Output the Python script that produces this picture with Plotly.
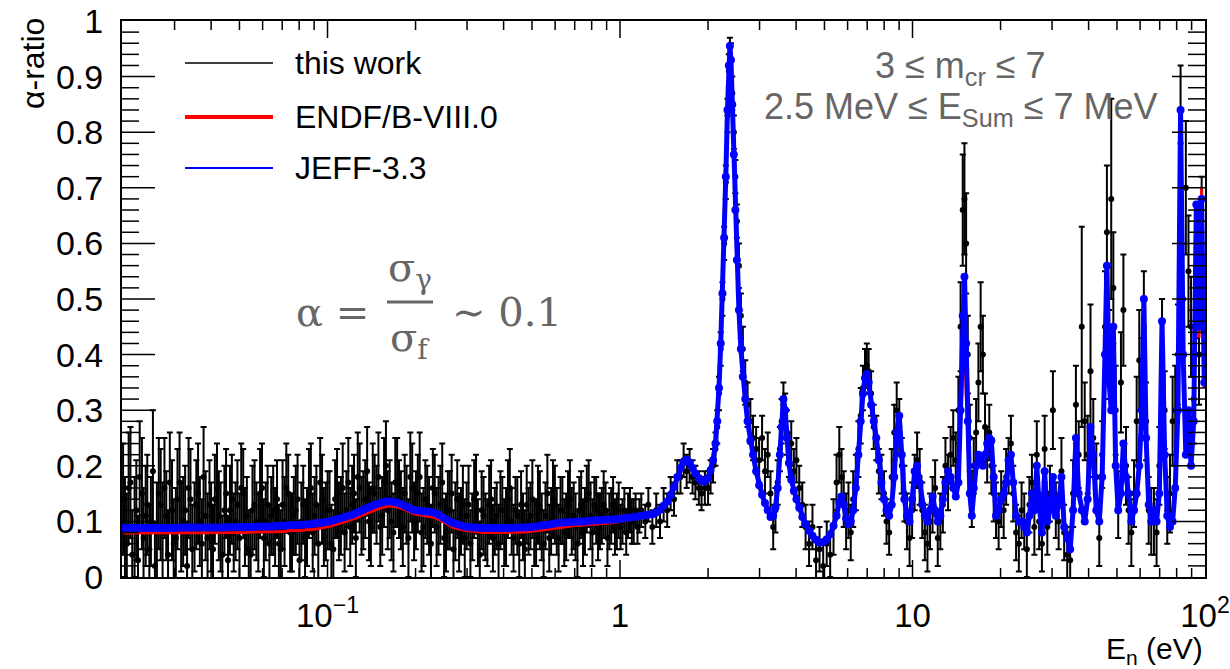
import math
import plotly.graph_objects as go

# ---------------- data ----------------
# neutron energy grid (eV), low / middle / high region
E_LOW = [0.0200, 0.0206, 0.0212, 0.0219, 0.0225, 0.0232, 0.0239, 0.0246, 0.0253, 0.0261,
         0.0269, 0.0277, 0.0285, 0.0294, 0.0303, 0.0312, 0.0321, 0.0331, 0.0340, 0.0351,
         0.0361, 0.0372, 0.0383, 0.0395, 0.0406, 0.0419, 0.0431, 0.0444, 0.0457, 0.0471,
         0.0485, 0.0500, 0.0515, 0.0530, 0.0546, 0.0563, 0.0580, 0.0597, 0.0615, 0.0633,
         0.0652, 0.0672, 0.0692, 0.0713, 0.0734, 0.0756, 0.0779, 0.0802, 0.0826, 0.0851,
         0.0877, 0.0903, 0.0930, 0.0958, 0.0987, 0.1016, 0.1047, 0.1078, 0.1111, 0.1144,
         0.1178, 0.1214, 0.1250, 0.1288, 0.1326, 0.1366, 0.1407, 0.1449, 0.1493, 0.1538,
         0.1584, 0.1631, 0.1680, 0.1730, 0.1782, 0.1836, 0.1891, 0.1948, 0.2006, 0.2066,
         0.2128, 0.2192, 0.2258, 0.2326, 0.2396, 0.2467, 0.2541, 0.2618, 0.2696, 0.2777,
         0.2860, 0.2946, 0.3035, 0.3126, 0.3219, 0.3316, 0.3415, 0.3518, 0.3623, 0.3732,
         0.3844, 0.3959, 0.4078, 0.4200, 0.4326, 0.4456, 0.4590, 0.4728, 0.4869, 0.5015,
         0.5166, 0.5321, 0.5480, 0.5645, 0.5814, 0.5989, 0.6168, 0.6353, 0.6544, 0.6740,
         0.6943, 0.7151, 0.7365, 0.7586, 0.7814, 0.8048, 0.8290, 0.8539, 0.8795, 0.9059,
         0.9330, 0.9610, 0.9899, 1.0196, 1.0501, 1.0816, 1.1141, 1.1475, 1.1820]
E_MID = [1.22, 1.25, 1.29, 1.33, 1.37, 1.41, 1.45, 1.49, 1.53, 1.57,
         1.61, 1.65, 1.69, 1.73, 1.77, 1.81, 1.86, 1.90, 1.95, 2.00,
         2.04, 2.08, 2.12, 2.15, 2.18, 2.21, 2.24, 2.27, 2.30, 2.33,
         2.355, 2.375, 2.395, 2.42, 2.45, 2.48, 2.51, 2.55, 2.59, 2.63,
         2.68, 2.73, 2.79, 2.85, 2.92, 2.99, 3.06, 3.13, 3.20, 3.27,
         3.34, 3.40, 3.46, 3.52, 3.57, 3.62, 3.67, 3.72, 3.78, 3.85,
         3.93, 4.01, 4.10, 4.20, 4.31, 4.43, 4.55, 4.68, 4.81, 4.95,
         5.09, 5.23, 5.37, 5.50, 5.62, 5.72, 5.82, 5.93, 6.04, 6.15,
         6.27, 6.40, 6.53, 6.65, 6.77, 6.88, 6.98]
E_HI = [7.08, 7.22, 7.37, 7.52, 7.67, 7.83, 7.99, 8.15, 8.32, 8.49,
        8.66, 8.83, 9.01, 9.19, 9.38, 9.57, 9.77, 9.97, 10.17, 10.37,
        10.58, 10.8, 11.02, 11.25, 11.48, 11.71, 11.95, 12.2, 12.45, 12.7,
        12.96, 13.23, 13.5, 13.78, 14.06, 14.35, 14.6, 14.85, 15.05, 15.25,
        15.45, 15.7, 15.95, 16.2, 16.5, 16.8, 17.1, 17.4, 17.7, 18.0,
        18.3, 18.6, 18.95, 19.3, 19.7, 20.1, 20.5, 20.9, 21.3, 21.7,
        22.1, 22.6, 23.1, 23.6, 24.1, 24.6, 25.1, 25.6, 26.1, 26.6,
        27.1, 27.7, 28.3, 28.9, 29.5, 30.2, 30.9, 31.6, 32.3, 33.0,
        33.8, 34.6, 35.4, 36.2, 37.0, 37.9, 38.8, 39.7, 40.6, 41.5,
        42.5, 43.5, 44.5, 45.5, 46.2, 47.0, 47.8, 48.6, 49.5, 50.5,
        51.6, 52.6, 53.7, 54.8, 56.0, 57.2, 58.4, 59.6, 60.8, 61.8,
        62.9, 64.2, 65.5, 66.9, 68.3, 69.8, 71.3, 72.8, 74.3, 75.9,
        77.5, 79.1, 80.8, 82.5, 84.2, 86.0, 87.8, 89.6, 91.5, 93.4,
        95.4, 97.4, 99.4]
# extra measured bins in between (low-energy region only has "this work" values)
E_LOW_B = [0.0203, 0.0209, 0.0215, 0.0222, 0.0228, 0.0235, 0.0242, 0.0249, 0.0257, 0.0265,
           0.0273, 0.0281, 0.0289, 0.0298, 0.0307, 0.0316, 0.0326, 0.0335, 0.0345, 0.0356,
           0.0366, 0.0377, 0.0389, 0.0400, 0.0412, 0.0425, 0.0437, 0.0450, 0.0464, 0.0478,
           0.0492, 0.0507, 0.0522, 0.0538, 0.0554, 0.0571, 0.0588, 0.0606, 0.0624, 0.0642,
           0.0662, 0.0682, 0.0702, 0.0723, 0.0745, 0.0767, 0.0790, 0.0814, 0.0838, 0.0864,
           0.0890, 0.0916, 0.0944, 0.0972, 0.1001, 0.1031, 0.1062, 0.1094, 0.1127, 0.1161,
           0.1196, 0.1232, 0.1269, 0.1307, 0.1346, 0.1386, 0.1428, 0.1471, 0.1515, 0.1561,
           0.1607, 0.1655, 0.1705, 0.1756, 0.1809, 0.1863, 0.1919, 0.1977, 0.2036, 0.2097,
           0.2160, 0.2225, 0.2292, 0.2361, 0.2431, 0.2504, 0.2579, 0.2657, 0.2736, 0.2818,
           0.2903, 0.2990, 0.3080, 0.3172, 0.3267, 0.3365, 0.3466, 0.3570, 0.3677, 0.3788,
           0.3901, 0.4018, 0.4139, 0.4263, 0.4391, 0.4523, 0.4659, 0.4798, 0.4942, 0.5090,
           0.5243, 0.5400, 0.5562, 0.5729, 0.5901, 0.6078, 0.6260, 0.6448, 0.6642, 0.6841,
           0.7046, 0.7258, 0.7475, 0.7700, 0.7931, 0.8169, 0.8414, 0.8666, 0.8926, 0.9194,
           0.9470, 0.9754, 1.0047, 1.0348, 1.0658, 1.0978, 1.1307, 1.1647]

# "this work" measured alpha ratio
D_LOW = [.14, .06, .17, .09, .03, .15, .11, .05, .19, .08,
         .13, .16, .04, .12, .07, .17, .10, .02, .14, .09,
         .15, .06, .11, .13, .05, .16, .09, .12, .03, .14,
         .10, .07, .15, .11, .04, .13, .08, .16, .10, .06,
         .12, .14, .05, .10, .15, .08, .12, .03, .13, .09,
         .16, .11, .06, .14, .10, .12, .05, .15, .11, .08,
         .17, .13, .07, .16, .12, .19, .09, .15, .18, .11,
         .20, .14, .08, .17, .12, .15, .07, .16, .12, .18,
         .09, .13, .06, .15, .11, .17, .08, .12, .05, .14,
         .10, .07, .13, .09, .15, .04, .11, .08, .14, .10,
         .06, .12, .09, .16, .07, .11, .13, .05, .10, .14,
         .08, .12, .06, .15, .10, .13, .07, .12, .09, .14,
         .11, .06, .13, .10, .15, .08, .12, .10, .13, .07,
         .11, .09, .12, .10, .08, .12, .10, .09, .12]
D_LOW_B = [.09, .16, .04, .12, .18, .07, .13, .10, .02, .15,
           .08, .11, .17, .06, .14, .09, .12, .16, .05, .13,
           .10, .18, .07, .09, .14, .11, .04, .15, .12, .08,
           .13, .16, .09, .05, .12, .10, .15, .07, .13, .11,
           .09, .06, .13, .16, .08, .11, .14, .10, .07, .15,
           .08, .13, .17, .09, .12, .06, .14, .10, .16, .12,
           .09, .15, .18, .11, .14, .10, .16, .13, .09, .17,
           .12, .10, .17, .14, .09, .13, .18, .10, .15, .08,
           .14, .11, .16, .09, .13, .07, .12, .15, .10, .08,
           .13, .11, .06, .14, .08, .12, .09, .13, .07, .11,
           .12, .08, .14, .10, .12, .06, .09, .13, .11, .08,
           .13, .09, .11, .07, .14, .10, .12, .08, .13, .10,
           .09, .12, .08, .14, .11, .13, .09, .11, .12, .10,
           .13, .10, .09, .12, .11, .10, .12, .11]
D_MID = [.10, .13, .09, .12, .10, .13, .12, .15, .14, .18,
         .18, .21, .19, .20, .18, .17, .16, .15, .16, .16,
         .18, .20, .23, .27, .33, .41, .50, .60, .71, .83,
         .91, .94, .93, .87, .80, .72, .64, .56, .47, .41,
         .35, .31, .28, .25, .23, .21, .25, .19, .22, .15,
         .09, .12, .17, .23, .28, .31, .29, .26, .22, .24,
         .19, .21, .16, .13, .09, .06, .09, .03, .05, .02,
         .06, .04, .09, .17, .22, .18, .14, .10, .12, .08,
         .14, .17, .23, .29, .34, .37, .38]
D_HI = [.37, .33, .27, .25, .19, .18, .15, .10, .08, .18,
        .26, .30, .27, .20, .15, .10, .07, .12, .17, .21,
        .18, .12, .08, .06, .10, .13, .16, .07, .10, .13,
        .20, .17, .22, .25, .21, .30, .45, .66, .68, .60,
        .40, .25, .14, .20, .26, .35, .45, .40, .27, .22,
        .26, .20, .15, .12, .10, .14, .12, .18, .20, .24,
        .15, .08, .06, .12, .10, .05, .13, .17, .09, .22,
        .10, .06, .23, .09, .15, .30, .12, .10, .19, .08,
        .04, .03, .15, .31, .22, .45, .28, .22, .37, .25,
        .18, .07, .22, .45, .62, .40, .68, .52, .30, .13,
        .35, .48, .20, .12, .08, .15, .28, .39, .35, .45,
        .28, .12, .10, .10, .08, .20, .40, .30, .12, .15,
        .28, .30, .40, .78, .50, .70, .55, .45, .32, .55,
        .40, .60, .45]

# statistical uncertainty of "this work"
ERR_LOW = [.10, .09, .10, .09, .08, .10, .09, .08, .11, .09,
           .10, .09, .08, .09, .09, .09, .08, .08, .09, .08,
           .09, .08, .08, .08, .08, .08, .08, .08, .08, .08,
           .07, .08, .08, .07, .08, .08, .07, .08, .07, .07,
           .08, .07, .07, .08, .07, .07, .08, .07, .07, .07,
           .08, .07, .07, .08, .07, .07, .07, .08, .07, .07,
           .08, .07, .07, .08, .07, .08, .07, .07, .08, .07,
           .08, .07, .07, .08, .07, .07, .07, .08, .07, .08,
           .07, .07, .07, .07, .07, .07, .07, .07, .07, .07,
           .06, .07, .07, .06, .07, .06, .07, .06, .07, .06,
           .07, .06, .07, .07, .06, .07, .06, .07, .06, .07,
           .06, .07, .06, .07, .06, .07, .06, .06, .06, .07,
           .06, .06, .06, .06, .06, .06, .06, .05, .06, .05,
           .05, .05, .05, .04, .04, .04, .04, .03, .03]
ERR_LOW_B = [.09, .10, .08, .09, .10, .09, .09, .08, .08, .10,
             .09, .08, .09, .08, .09, .08, .08, .09, .08, .08,
             .08, .09, .08, .08, .08, .08, .07, .08, .08, .07,
             .08, .08, .07, .07, .08, .07, .08, .07, .07, .07,
             .07, .07, .08, .08, .07, .07, .08, .07, .07, .08,
             .07, .07, .08, .07, .07, .07, .07, .07, .08, .07,
             .07, .07, .08, .07, .07, .07, .08, .07, .07, .08,
             .07, .07, .08, .07, .07, .07, .08, .07, .07, .07,
             .07, .07, .07, .07, .07, .07, .07, .07, .07, .07,
             .07, .06, .06, .07, .06, .07, .06, .07, .06, .06,
             .07, .06, .07, .06, .06, .06, .06, .07, .06, .06,
             .07, .06, .06, .06, .07, .06, .06, .06, .06, .06,
             .06, .06, .06, .06, .06, .05, .06, .05, .05, .05,
             .05, .05, .04, .04, .04, .04, .03, .03]
ERR_MID = [.03, .03, .03, .03, .03, .03, .03, .03, .03, .03,
           .03, .03, .03, .03, .03, .03, .03, .03, .03, .03,
           .03, .03, .03, .03, .03, .03, .03, .03, .03, .03,
           .03, .03, .03, .03, .03, .03, .03, .04, .04, .04,
           .04, .04, .04, .04, .04, .04, .04, .04, .04, .04,
           .04, .04, .04, .04, .04, .04, .04, .04, .04, .04,
           .04, .04, .04, .04, .04, .04, .04, .04, .04, .04,
           .04, .04, .05, .05, .05, .05, .05, .05, .05, .05,
           .05, .05, .05, .05, .04, .04, .04]
ERR_HI = [.04, .04, .04, .04, .04, .04, .04, .04, .04, .05,
          .05, .05, .05, .05, .05, .05, .05, .05, .05, .05,
          .05, .05, .05, .05, .05, .05, .05, .05, .05, .05,
          .05, .05, .05, .05, .05, .06, .08, .10, .10, .09,
          .07, .06, .05, .05, .06, .07, .08, .07, .06, .05,
          .05, .05, .05, .05, .05, .05, .05, .05, .05, .05,
          .05, .05, .05, .05, .05, .05, .05, .05, .05, .06,
          .05, .05, .06, .05, .05, .07, .05, .05, .06, .05,
          .05, .05, .06, .07, .06, .18, .07, .07, .12, .07,
          .06, .05, .06, .10, .12, .08, .18, .10, .08, .06,
          .09, .10, .07, .06, .06, .06, .08, .09, .08, .10,
          .07, .06, .06, .06, .06, .07, .10, .07, .06, .07,
          .08, .08, .09, .14, .10, .12, .10, .09, .08, .12,
          .09, .12, .10]

# ENDF/B-VIII.0 evaluation
R_LOW = [.079, .079, .079, .079, .079, .079, .079, .079, .079, .079,
         .079, .079, .079, .079, .079, .079, .079, .079, .079, .079,
         .079, .079, .079, .080, .080, .080, .080, .080, .080, .080,
         .080, .080, .080, .080, .081, .081, .081, .081, .081, .081,
         .082, .082, .082, .082, .083, .083, .083, .084, .084, .085,
         .085, .086, .087, .088, .089, .091, .093, .095, .097, .099,
         .101, .104, .106, .109, .112, .115, .118, .121, .123, .125,
         .127, .128, .127, .126, .124, .121, .118, .115, .113, .112,
         .111, .110, .109, .107, .104, .100, .096, .092, .089, .087,
         .085, .084, .083, .082, .081, .081, .080, .080, .080, .080,
         .080, .080, .080, .080, .080, .081, .081, .081, .082, .082,
         .083, .084, .085, .086, .087, .088, .089, .090, .091, .092,
         .093, .093, .093, .094, .094, .095, .095, .096, .096, .097,
         .097, .098, .099, .100, .101, .103, .104, .105, .107]
R_MID = [.109, .110, .112, .115, .120, .127, .135, .146, .161, .179,
         .195, .206, .210, .205, .195, .185, .177, .172, .171, .177,
         .191, .209, .239, .279, .339, .419, .509, .609, .719, .839,
         .919, .953, .928, .850, .762, .664, .575, .485, .414, .363,
         .322, .282, .246, .221, .191, .166, .148, .133, .120, .108,
         .110, .125, .160, .220, .270, .318, .298, .250, .205, .175,
         .155, .140, .125, .108, .095, .083, .074, .067, .062, .063,
         .068, .077, .092, .110, .133, .143, .129, .105, .095, .100,
         .120, .160, .220, .280, .330, .357, .364]
R_HI = [.349, .309, .279, .249, .209, .170, .140, .120, .110, .130,
        .180, .258, .288, .219, .140, .110, .100, .140, .190, .200,
        .170, .130, .110, .100, .120, .145, .120, .100, .110, .140,
        .170, .190, .180, .160, .145, .165, .260, .380, .420, .350,
        .250, .150, .110, .160, .200, .220, .210, .200, .220, .240,
        .250, .245, .180, .110, .120, .140, .150, .170, .210, .220,
        .170, .110, .100, .100, .090, .080, .110, .150, .120, .190,
        .130, .080, .180, .100, .120, .170, .110, .130, .175, .090,
        .070, .050, .120, .240, .150, .120, .100, .140, .260, .210,
        .120, .100, .170, .380, .530, .340, .300, .430, .200, .120,
        .150, .230, .180, .150, .100, .120, .150, .200, .290, .470,
        .240, .130, .100, .120, .100, .150, .440, .210, .110, .090,
        .100, .160, .290, .820, .390, .220, .290, .200, .270, .620,
        .430, .700, .340]

# JEFF-3.3 evaluation
J_LOW = [.088, .088, .088, .088, .088, .088, .088, .088, .088, .088,
         .088, .088, .088, .088, .088, .089, .089, .089, .089, .089,
         .089, .089, .089, .089, .089, .089, .089, .089, .090, .090,
         .090, .090, .090, .090, .090, .090, .091, .091, .091, .091,
         .091, .092, .092, .092, .093, .093, .093, .094, .094, .095,
         .095, .096, .097, .098, .099, .100, .102, .104, .106, .108,
         .110, .112, .115, .118, .121, .124, .127, .130, .132, .134,
         .136, .136, .135, .134, .131, .128, .125, .122, .120, .119,
         .118, .118, .117, .115, .112, .108, .104, .100, .097, .095,
         .093, .091, .090, .089, .089, .088, .088, .088, .088, .088,
         .088, .088, .088, .088, .088, .089, .089, .089, .090, .090,
         .091, .092, .093, .094, .095, .096, .097, .098, .098, .099,
         .099, .100, .100, .100, .101, .101, .102, .102, .103, .103,
         .103, .104, .104, .105, .106, .107, .108, .109, .110]
J_MID = [.111, .112, .113, .116, .121, .128, .136, .147, .162, .180,
         .196, .207, .211, .206, .196, .186, .178, .173, .172, .178,
         .192, .210, .240, .280, .340, .420, .510, .610, .720, .840,
         .920, .955, .930, .850, .760, .660, .570, .480, .410, .360,
         .320, .280, .245, .220, .190, .165, .148, .133, .120, .108,
         .110, .125, .160, .220, .270, .320, .300, .250, .205, .175,
         .155, .140, .125, .108, .095, .083, .074, .067, .062, .063,
         .068, .077, .092, .110, .135, .145, .130, .105, .095, .100,
         .120, .160, .220, .280, .330, .358, .365]
J_HI = [.350, .310, .280, .250, .210, .170, .140, .120, .110, .130,
        .180, .260, .290, .220, .140, .110, .100, .140, .190, .200,
        .170, .130, .110, .100, .120, .145, .120, .100, .110, .140,
        .170, .190, .180, .160, .145, .170, .300, .470, .540, .420,
        .280, .150, .110, .160, .200, .220, .210, .200, .220, .240,
        .250, .245, .180, .110, .120, .140, .150, .170, .210, .220,
        .170, .110, .100, .100, .090, .080, .110, .150, .120, .200,
        .130, .080, .190, .100, .120, .180, .110, .130, .180, .090,
        .070, .050, .120, .250, .150, .120, .100, .140, .270, .220,
        .120, .100, .180, .400, .560, .350, .300, .450, .200, .120,
        .150, .240, .180, .150, .100, .120, .150, .200, .300, .500,
        .250, .130, .100, .120, .100, .150, .460, .220, .110, .090,
        .100, .160, .300, .840, .400, .220, .300, .200, .280, .670,
        .450, .680, .350]

# axis tick values
X_MAJOR = [0.1, 1, 10, 100]
X_LABELS = ["10<sup>\u22121</sup>", "1", "10", "10<sup>2</sup>"]
X_MINOR = [0.02, 0.03, 0.04, 0.05, 0.06, 0.07, 0.08, 0.09,
           0.2, 0.3, 0.4, 0.5, 0.6, 0.7, 0.8, 0.9,
           2, 3, 4, 5, 6, 7, 8, 9,
           20, 30, 40, 50, 60, 70, 80, 90]

energy = E_LOW + E_MID + E_HI
endf = R_LOW + R_MID + R_HI
jeff = J_LOW + J_MID + J_HI
tw_x = E_LOW + E_LOW_B + E_MID + E_HI
tw_y = D_LOW + D_LOW_B + D_MID + D_HI
tw_e = ERR_LOW + ERR_LOW_B + ERR_MID + ERR_HI
n1 = min(len(energy), len(endf), len(jeff))
n2 = min(len(tw_x), len(tw_y), len(tw_e))

# ---------------- figure ----------------
W, H = 1230, 669
L, R, T, B = 122, 25, 21, 92
PW, PH = W - L - R, H - T - B
XMIN, XMAX = -1.7026, 2.0


def px(sx):  # screen pixel -> paper x
    return (sx - L) / PW


def py(sy):  # screen pixel -> paper y
    return (H - B - sy) / PH


fig = go.Figure()
fig.add_trace(go.Scatter(
    x=tw_x[:n2], y=tw_y[:n2], mode="markers", name="this work",
    marker=dict(color="black", size=6),
    error_y=dict(type="data", array=tw_e[:n2], color="black", thickness=2, width=3),
    showlegend=False))
fig.add_trace(go.Scatter(
    x=energy[:n1], y=endf[:n1], mode="lines", name="ENDF/B-VIII.0",
    line=dict(color="red", width=3), showlegend=False))
fig.add_trace(go.Scatter(
    x=energy[:n1], y=jeff[:n1], mode="lines+markers", name="JEFF-3.3",
    line=dict(color="blue", width=5), marker=dict(color="blue", size=8),
    showlegend=False))

FONT = "Liberation Sans, Arial, Helvetica, sans-serif"
GRAY = "#666666"

axis_common = dict(showline=True, linecolor="black", linewidth=2, mirror=True,
                   ticks="", showgrid=False, zeroline=False, automargin=False,
                   ticklabeloverflow="allow")

fig.update_layout(
    width=W, height=H, margin=dict(l=L, r=R, t=T, b=B, autoexpand=False),
    paper_bgcolor="white", plot_bgcolor="white",
    font=dict(family=FONT, color="black"),
    xaxis=dict(type="log", range=[XMIN, XMAX], tickmode="array", tickvals=X_MAJOR,
               ticktext=X_LABELS,
               ticklabelstandoff=8, tickfont=dict(family=FONT, size=33, color="black"),
               **axis_common),
    yaxis=dict(range=[0, 1], tickmode="linear", tick0=0, dtick=0.1, ticklabelstandoff=10,
               tickfont=dict(family=FONT, size=34, color="black"),
               **axis_common),
)

annotations = []
shapes = []


# ROOT-style ticks on all four sides of the frame
def xpos(v):
    return (math.log10(v) - XMIN) / (XMAX - XMIN)


tick_line = dict(color="black", width=1.5)
for vals, ln in ((X_MAJOR, 17), (X_MINOR, 9)):
    for v in vals:
        xp = xpos(v)
        if xp <= 0.001 or xp >= 0.999:
            continue
        shapes.append(dict(type="line", xref="paper", yref="paper", x0=xp, x1=xp,
                           y0=0, y1=ln / PH, line=tick_line, layer="above"))
        shapes.append(dict(type="line", xref="paper", yref="paper", x0=xp, x1=xp,
                           y0=1, y1=1 - ln / PH, line=tick_line, layer="above"))
for k in range(1, 50):
    yv = k * 0.02
    ln = 33 if k % 5 == 0 else 17
    shapes.append(dict(type="line", xref="paper", yref="paper", x0=0, x1=ln / PW,
                       y0=yv, y1=yv, line=tick_line, layer="above"))
    shapes.append(dict(type="line", xref="paper", yref="paper", x0=1, x1=1 - ln / PW,
                       y0=yv, y1=yv, line=tick_line, layer="above"))

# axis titles
annotations.append(dict(text="\u03b1-ratio", x=px(33), y=py(64), xref="paper", yref="paper",
                         textangle=-90, showarrow=False, font=dict(family=FONT, size=32, color="black"),
                         xanchor="center", yanchor="middle"))
annotations.append(dict(text="E<sub>n</sub> (eV)", x=1.0, y=py(650), xref="paper", yref="paper",
                         showarrow=False, font=dict(family=FONT, size=30, color="black"),
                         xanchor="right", yanchor="middle"))

# legend (drawn by hand, ROOT-style)
legend_rows = [("this work", "black", 1.5, 63), ("ENDF/B-VIII.0", "red", 4, 117), ("JEFF-3.3", "blue", 2, 168)]
for label, col, wid, yy in legend_rows:
    shapes.append(dict(type="line", xref="paper", yref="paper", x0=px(185), x1=px(273),
                       y0=py(yy), y1=py(yy), line=dict(color=col, width=wid)))
    annotations.append(dict(text=label, x=px(293), y=py(yy), xref="paper", yref="paper",
                            showarrow=False, xanchor="left", yanchor="middle",
                            font=dict(family=FONT, size=32, color="black")))

# selection cuts
annotations.append(dict(text="3 \u2264 m<sub>cr</sub> \u2264 7", x=px(960), y=py(68), xref="paper",
                        yref="paper", showarrow=False, xanchor="center", yanchor="middle",
                        font=dict(family=FONT, size=36, color=GRAY)))
annotations.append(dict(text="2.5 MeV \u2264 E<sub>Sum</sub> \u2264 7 MeV", x=px(960), y=py(109),
                        xref="paper", yref="paper", showarrow=False, xanchor="center",
                        yanchor="middle", font=dict(family=FONT, size=36, color=GRAY)))

# formula alpha = sigma_gamma / sigma_f ~ 0.1
SERIF = "DejaVu Serif, Liberation Serif, serif"
annotations.append(dict(text="\u03b1 =", x=px(332), y=py(312), xref="paper", yref="paper",
                        showarrow=False, xanchor="center", yanchor="middle",
                        font=dict(family=SERIF, size=40, color=GRAY)))
annotations.append(dict(text="\u03c3<sub>\u03b3</sub>", x=px(410), y=py(270), xref="paper", yref="paper",
                        showarrow=False, xanchor="center", yanchor="middle",
                        font=dict(family=SERIF, size=40, color=GRAY)))
annotations.append(dict(text="\u03c3<sub>f</sub>", x=px(410), y=py(340), xref="paper", yref="paper",
                        showarrow=False, xanchor="center", yanchor="middle",
                        font=dict(family=SERIF, size=40, color=GRAY)))
shapes.append(dict(type="line", xref="paper", yref="paper", x0=px(387), x1=px(433),
                   y0=py(302), y1=py(302), line=dict(color=GRAY, width=3)))
annotations.append(dict(text="\u223c 0.1", x=px(507), y=py(312), xref="paper", yref="paper",
                        showarrow=False, xanchor="center", yanchor="middle",
                        font=dict(family=SERIF, size=40, color=GRAY)))

fig.update_layout(annotations=annotations, shapes=shapes)
# remove the default 8px page margin so the figure fills the 1230x669 window exactly
fig.write_html("out.html", config={"displayModeBar": False},
               post_script="document.body.style.margin='0px';")
